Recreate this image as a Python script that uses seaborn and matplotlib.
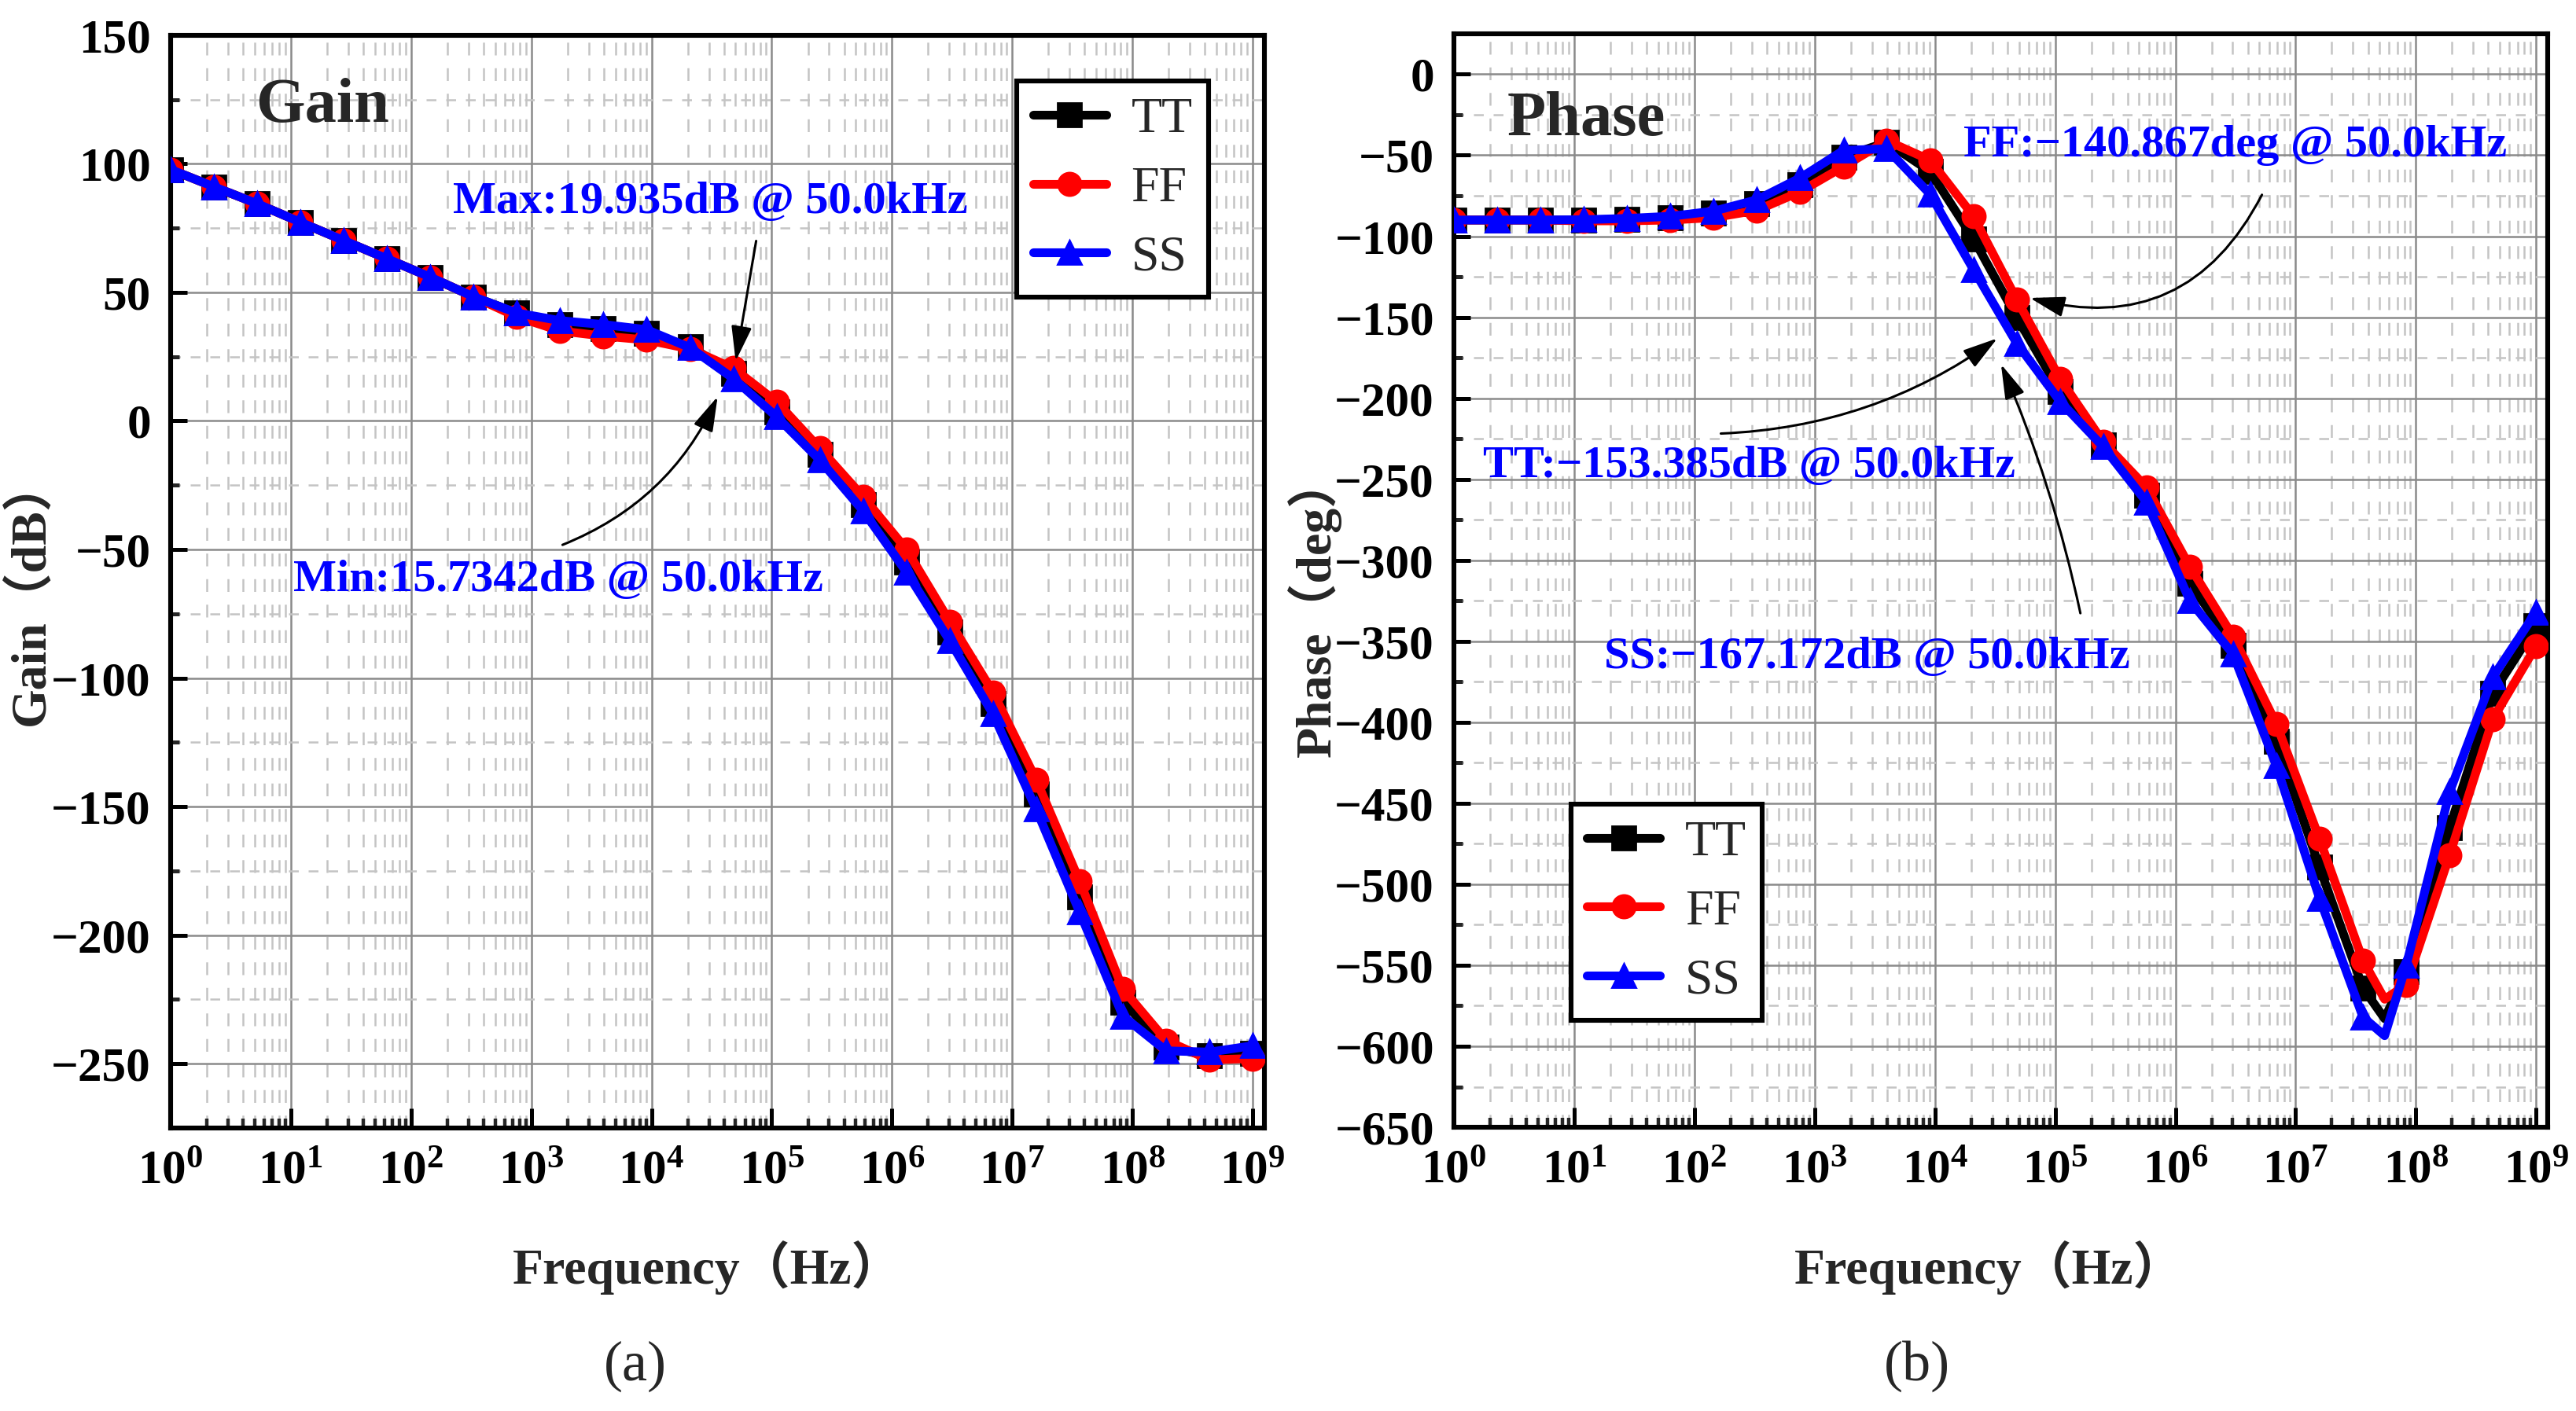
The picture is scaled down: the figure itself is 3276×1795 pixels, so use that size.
import numpy as np
import pandas as pd
import matplotlib
matplotlib.use("Agg")
import matplotlib.pyplot as plt
import seaborn as sns
from matplotlib.ticker import FixedLocator, FuncFormatter, MultipleLocator, LogLocator, NullFormatter

# ---------------- data ----------------
corners = ["TT", "FF", "SS"]
corner_colors = {"TT": "#000000", "FF": "#ff0000", "SS": "#0000ff"}
corner_markers = {"TT": "s", "FF": "o", "SS": "^"}

freq_hz = [1, 2.29, 5.25, 12.0, 27.5, 63.1, 145, 331, 759, 1740, 3980, 9120,
           20900, 47900, 110000, 251000, 575000, 1.32e6, 3.02e6, 6.92e6,
           1.58e7, 3.63e7, 8.32e7, 1.91e8, 4.37e8, 1e9]

gain_tt = [97.8, 91.1, 84.5, 77.3, 70.2, 63.1, 55.9, 48.3, 42.0, 37.5, 36.0, 34.0,
           29.0, 18.5, 3.5, -13.0, -32.5, -55.0, -82.0, -110.0, -145.0, -185.0,
           -226.0, -243.5, -247.0, -246.0]
gain_ff = [97.8, 91.1, 84.5, 77.3, 70.2, 63.1, 55.9, 48.3, 40.5, 35.0, 33.0, 31.5,
           28.0, 20.5, 7.4, -10.7, -29.5, -50.0, -78.0, -105.5, -139.5, -179.0,
           -221.0, -241.0, -248.5, -248.0]
gain_ss = [97.8, 91.1, 84.5, 77.3, 70.2, 63.1, 55.9, 48.3, 42.0, 39.0, 37.5, 35.5,
           28.5, 16.5, 1.6, -15.2, -35.0, -58.8, -85.5, -114.0, -151.0, -191.0,
           -231.5, -245.0, -245.5, -243.0]

# phase curves have one extra vertex at the notch (5.5e7 Hz) without a marker
phase_freq_hz = [1, 2.29, 5.25, 12.0, 27.5, 63.1, 145, 331, 759, 1740, 3980, 9120,
                 20900, 47900, 110000, 251000, 575000, 1.32e6, 3.02e6, 6.92e6,
                 1.58e7, 3.63e7, 5.5e7, 8.32e7, 1.91e8, 4.37e8, 1e9]
phase_tt = [-90.0, -90.0, -90.0, -90.0, -89.5, -88.5, -85.5, -80.0, -68.0, -51.0, -42.0,
            -60.0, -101.5, -150.0, -196.0, -229.0, -260.0, -314.0, -352.7, -411.6,
            -489.6, -564.0, -583.0, -553.7, -465.0, -382.0, -340.6]
phase_ff = [-90.0, -90.0, -90.0, -90.5, -90.5, -90.0, -88.5, -84.0, -72.5, -57.0, -41.0,
            -53.0, -87.5, -139.0, -188.0, -227.0, -255.0, -304.0, -347.0, -401.0,
            -472.0, -547.0, -571.0, -562.0, -482.0, -398.0, -353.0]
phase_ss = [-90.0, -90.0, -90.0, -89.8, -89.0, -87.7, -84.5, -77.5, -64.0, -47.0, -46.0,
            -74.0, -120.5, -166.0, -202.0, -230.0, -264.0, -325.0, -358.0, -427.0,
            -508.6, -582.0, -593.5, -550.0, -443.0, -372.0, -332.0]
phase_marker_idx = [i for i in range(len(phase_freq_hz)) if i != 22]

decade_ticks = [1e0, 1e1, 1e2, 1e3, 1e4, 1e5, 1e6, 1e7, 1e8, 1e9]

gain_df = pd.DataFrame({"freq": freq_hz * 3,
                        "value": gain_tt + gain_ff + gain_ss,
                        "corner": ["TT"] * 26 + ["FF"] * 26 + ["SS"] * 26})
phase_df = pd.DataFrame({"freq": phase_freq_hz * 3,
                         "value": phase_tt + phase_ff + phase_ss,
                         "corner": ["TT"] * 27 + ["FF"] * 27 + ["SS"] * 27})

# ---------------- style ----------------
sns.set_style("white")
plt.rcParams["font.family"] = ["Liberation Serif", "Noto Sans CJK SC"]
plt.rcParams["font.weight"] = "bold"
plt.rcParams["mathtext.fontset"] = "custom"
plt.rcParams["mathtext.rm"] = "Liberation Serif"
plt.rcParams["mathtext.bf"] = "Liberation Serif:bold"
plt.rcParams["mathtext.it"] = "Liberation Serif:italic"
plt.rcParams["axes.unicode_minus"] = True

fig = plt.figure(figsize=(16.38, 8.975), dpi=200)
ax1 = fig.add_axes([0.0662, 0.2006, 0.4246, 0.7744])
ax2 = fig.add_axes([0.5644, 0.2011, 0.4246, 0.7750])

TICK_FS = 22
LABEL_FS = 23
ANN_FS = 21
BLUE = "#0000ff"


def draw_series(ax, df, markevery):
    for z, c in enumerate(corners):
        sub = df[df["corner"] == c]
        sns.lineplot(x=sub["freq"].to_numpy(), y=sub["value"].to_numpy(), ax=ax,
                     color=corner_colors[c], marker=corner_markers[c],
                     markersize=10.5, markeredgecolor=corner_colors[c],
                     markeredgewidth=1.0, linewidth=4.0, markevery=markevery,
                     sort=False, errorbar=None, label=c, zorder=3 + z)


def style_axes(ax, ylim, ymajor):
    ax.set_xscale("log")
    ax.set_xlim(1, 10 ** 9.096)
    ax.set_ylim(*ylim)
    ax.xaxis.set_major_locator(FixedLocator(decade_ticks))
    ax.xaxis.set_major_formatter(FuncFormatter(
        lambda v, p: r"$\mathbf{10}^{\mathrm{%d}}$" % int(round(np.log10(v)))))
    ax.xaxis.set_minor_locator(LogLocator(base=10, subs=np.arange(2, 10), numticks=30))
    ax.xaxis.set_minor_formatter(NullFormatter())
    ax.yaxis.set_major_locator(MultipleLocator(ymajor))
    ax.yaxis.set_minor_locator(MultipleLocator(ymajor / 2))
    ax.set_axisbelow(True)
    ax.grid(which="major", color="#8a8a8a", linewidth=0.9, linestyle="-")
    ax.grid(which="minor", axis="x", color="#c4c4c4", linewidth=0.9, linestyle=(0, (6.5, 6.5)))
    ax.grid(which="minor", axis="y", color="#c4c4c4", linewidth=0.9, linestyle=(0, (5, 5)))
    for s in ax.spines.values():
        s.set_visible(True)
        s.set_color("black")
        s.set_linewidth(2.2)
    ax.tick_params(axis="x", which="major", direction="in", length=9, width=1.8,
                   bottom=True, top=False, labelsize=TICK_FS, pad=10, colors="black")
    ax.tick_params(axis="x", which="minor", direction="in", length=4.5, width=1.6,
                   bottom=True, top=False)
    ax.tick_params(axis="y", which="major", direction="in", length=7.5, width=1.8,
                   left=True, right=False, labelsize=TICK_FS, pad=9, colors="black")
    ax.tick_params(axis="y", which="minor", direction="in", length=4, width=1.8,
                   left=True, right=False)
    for lab in ax.get_yticklabels():
        lab.set_fontweight("bold")


def arrow(ax, start, tip, rad):
    ax.annotate("", xy=tip, xytext=start,
                arrowprops=dict(arrowstyle="-|>,head_length=0.85,head_width=0.25",
                                color="black", lw=1.1, mutation_scale=16,
                                shrinkA=0, shrinkB=0,
                                connectionstyle="arc3,rad=%s" % rad), zorder=8)


LEG_KW = dict(borderaxespad=0, frameon=True, fancybox=False, framealpha=1,
              edgecolor="black", handlelength=1.45, handletextpad=0.5,
              labelspacing=0.45, borderpad=0.32,
              prop=dict(family="Liberation Serif", weight="normal", size=23))

# ---------------- (a) Gain ----------------
draw_series(ax1, gain_df, 1)
style_axes(ax1, (-275, 150), 50)
ax1.set_xlabel("Frequency（Hz）", fontsize=LABEL_FS, fontweight="bold")
ax1.set_ylabel("Gain（dB）", fontsize=LABEL_FS, fontweight="bold")
ax1.xaxis.set_label_coords(0.491, -0.128)
ax1.xaxis.label.set_va("center")
ax1.yaxis.set_label_coords(-0.127, 0.491)
ax1.yaxis.label.set_va("center")
ax1.text(10 ** 0.71, 122.4, "Gain", fontsize=29, fontweight="bold", ha="left", va="center")
ax1.text(10 ** 2.35, 85, "Max:19.935dB @ 50.0kHz", color=BLUE, fontsize=ANN_FS,
         fontweight="bold", ha="left", va="center", zorder=9)
ax1.text(10 ** 1.02, -62, "Min:15.7342dB @ 50.0kHz", color=BLUE, fontsize=ANN_FS,
         fontweight="bold", ha="left", va="center", zorder=9)
arrow(ax1, (10 ** 4.87, 70), (10 ** 4.70, 23.3), 0.0)
arrow(ax1, (10 ** 3.26, -48.2), (10 ** 4.55, 9.5), 0.2)
leg1 = ax1.legend(loc="upper right", bbox_to_anchor=(0.949, 0.958), **LEG_KW)
leg1.get_frame().set_linewidth(2.2)
leg1.set_zorder(10)

# ---------------- (b) Phase ----------------
draw_series(ax2, phase_df, phase_marker_idx)
style_axes(ax2, (-650, 25), 50)
ax2.set_xlabel("Frequency（Hz）", fontsize=LABEL_FS, fontweight="bold")
ax2.set_ylabel("Phase（deg）", fontsize=LABEL_FS, fontweight="bold")
ax2.xaxis.set_label_coords(0.4896, -0.128)
ax2.xaxis.label.set_va("center")
ax2.yaxis.set_label_coords(-0.128, 0.476)
ax2.yaxis.label.set_va("center")
ax2.text(10 ** 0.44, -28.2, "Phase", fontsize=29, fontweight="bold", ha="left", va="center")
ax2.text(10 ** 4.24, -43.8, "FF:\u2212140.867deg @ 50.0kHz", color=BLUE, fontsize=ANN_FS,
         fontweight="bold", ha="left", va="center", zorder=9)
ax2.text(10 ** 0.24, -241.7, "TT:\u2212153.385dB @ 50.0kHz", color=BLUE, fontsize=ANN_FS,
         fontweight="bold", ha="left", va="center", zorder=9)
ax2.text(10 ** 1.25, -360, "SS:\u2212167.172dB @ 50.0kHz", color=BLUE, fontsize=ANN_FS,
         fontweight="bold", ha="left", va="center", zorder=9)
arrow(ax2, (10 ** 6.72, -74.4), (10 ** 4.79, -138.1), -0.4)
arrow(ax2, (10 ** 2.22, -221.8), (10 ** 4.52, -163), 0.15)
arrow(ax2, (10 ** 5.21, -332.7), (10 ** 4.55, -179), 0.05)
leg2 = ax2.legend(loc="lower left", bbox_to_anchor=(0.107, 0.098), **LEG_KW)
leg2.get_frame().set_linewidth(2.2)
leg2.set_zorder(10)

# ---------------- captions ----------------
fig.text(0.2466, 0.0318, "(a)", fontsize=26, fontweight="normal", ha="center", va="center")
fig.text(0.7442, 0.0318, "(b)", fontsize=26, fontweight="normal", ha="center", va="center")

fig.savefig("out.png", dpi=200)
